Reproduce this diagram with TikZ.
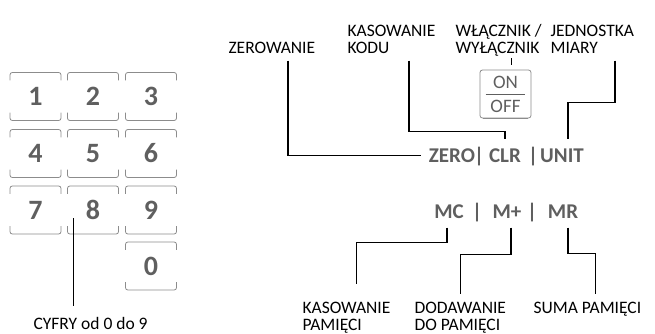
\documentclass[tikz,border=0pt]{standalone}
\usepackage{fontspec}
\setmainfont{Carlito}
\usetikzlibrary{positioning}
\definecolor{keygray}{HTML}{5F5F5F}
\definecolor{capgray}{HTML}{8C8C8C}
\begin{document}
\begin{tikzpicture}[x=1pt, y=-1pt, line width=1.1pt,
  lbl/.style={font=\fontsize{17.5}{17}\selectfont, align=left, anchor=base west, inner sep=0pt},
  keytxt/.style={font=\fontsize{21}{21}\selectfont\bfseries, text=keygray, anchor=base, inner xsep=7pt, inner ysep=9pt},
  keycap/.style={minimum width=50pt, minimum height=47pt, inner sep=0pt, font=\fontsize{28}{28}\selectfont\bfseries, text=keygray},
  capline/.style={draw=capgray, line width=0.8pt, rounded corners=2.5pt}]
  \useasboundingbox (0,0) rectangle (655,333);

  % === klawiatura numeryczna ===
  \node[keycap] (k1) at (35.5,96.5) {1};
  \node[keycap] (k2) at (93,96.5) {2};
  \node[keycap] (k3) at (151,96.5) {3};
  \node[keycap] (k4) at (35.5,153.5) {4};
  \node[keycap] (k5) at (93,153.5) {5};
  \node[keycap] (k6) at (151,153.5) {6};
  \node[keycap] (k7) at (35.5,210) {7};
  \node[keycap] (k8) at (93,210) {8};
  \node[keycap] (k9) at (151,210) {9};
  \node[keycap] (k0) at (151,266) {0};
  \foreach \k in {1,...,9,0} {
    \draw[capline] ([yshift=-8pt]k\k.north west) |- (k\k.north east) -- ([yshift=-8pt]k\k.north east);
    \draw[capline] ([yshift=8pt]k\k.south west) |- (k\k.south east) -- ([yshift=8pt]k\k.south east);
  }
  \node[lbl] (lcyfry) at (33,329) {CYFRY od 0 do 9};
  \coordinate (c8) at ([xshift=6pt,yshift=16pt]k8.south west);
  \draw (c8) -- ([yshift=10pt]c8 |- lcyfry.north);

  % === przycisk ON/OFF ===
  \node[draw=capgray, line width=0.8pt, rounded corners=2.5pt, minimum width=51pt, minimum height=48pt] (konoff) at (505.5,94) {};
  \draw[capgray, line width=1.6pt] ([xshift=3pt]konoff.south west) -- ([xshift=-3pt]konoff.south east);
  \node[keytxt, font=\fontsize{19}{19}\selectfont, inner sep=0pt, anchor=center] (kon) at (505.5,82) {ON};
  \node[keytxt, font=\fontsize{19}{19}\selectfont, inner sep=0pt, anchor=center] (koff) at (505.5,106) {OFF};
  \draw[keygray, line width=1pt] ([xshift=6pt]konoff.west) -- ([xshift=-6pt]konoff.east);

  % === przyciski funkcyjne ===
  \node[keytxt] (kzero) at (452,162) {ZERO};
  \node[keytxt] (s1) at (479,162) {|};
  \node[keytxt] (kclr) at (505,162) {CLR};
  \node[keytxt] (s2) at (533,162) {|};
  \node[keytxt] (kunit) at (562,162) {UNIT};
  \node[keytxt] (kmc) at (449,218) {MC};
  \node[keytxt] (s3) at (477,218) {|};
  \node[keytxt] (kmplus) at (507,218) {M+};
  \node[keytxt] (s4) at (532,218) {|};
  \node[keytxt] (kmr) at (563,218) {MR};

  % === opisy u góry ===
  \node[lbl] (lzero) at (228,53) {ZEROWANIE};
  \node[lbl] (lkod) at (347,53) {KASOWANIE\\KODU};
  \node[lbl] (lwl) at (455,53) {WŁĄCZNIK /\\WYŁĄCZNIK};
  \node[lbl] (ljed) at (550,53) {JEDNOSTKA\\MIARY};

  \draw ([xshift=60pt,yshift=-7pt]lzero.south west) |- (kzero.west);
  \draw ([xshift=62pt,yshift=-7pt]lkod.south west) |- ([yshift=7pt]kclr.north) -- (kclr.north);
  \coordinate (conoff) at ([xshift=6pt,yshift=5pt]konoff.north);
  \draw (conoff) -- ([yshift=-2pt]conoff |- lwl.south);
  \draw ([xshift=65pt,yshift=-7pt]ljed.south west) |- ([xshift=6pt,yshift=36pt]kunit.north) -- ([xshift=6pt]kunit.north);

  % === opisy u dołu ===
  \node[lbl] (lkasp) at (302,330) {KASOWANIE\\PAMIĘCI};
  \node[lbl] (ldod) at (414,330) {DODAWANIE\\DO PAMIĘCI};
  \node[lbl] (lsuma) at (533,313) {SUMA PAMIĘCI};

  \draw ([xshift=-2pt]kmc.south) -- ++(0,15) -| ([xshift=10pt,yshift=17pt]lkasp.north);
  \draw ([xshift=4pt]kmplus.south) -- ++(0,27) -| ([yshift=7pt]ldod.north);
  \draw ([xshift=5pt]kmr.south) -- ++(0,26) -| ([xshift=8pt,yshift=7pt]lsuma.north);
\end{tikzpicture}
\end{document}
